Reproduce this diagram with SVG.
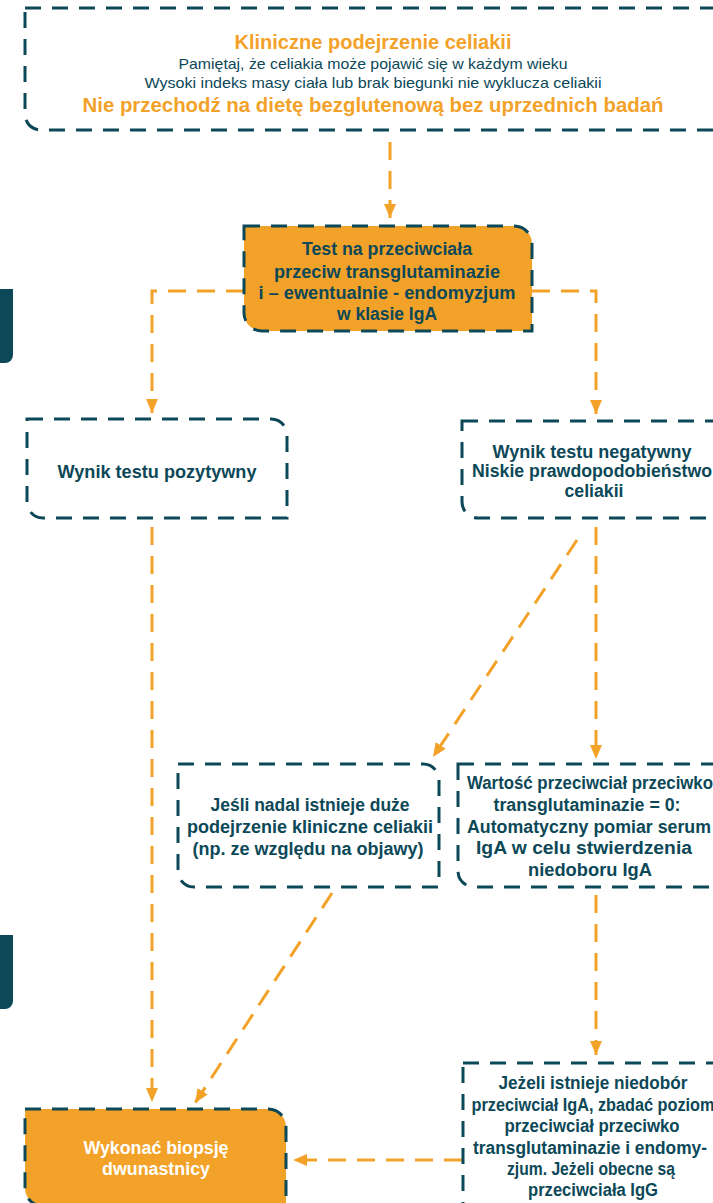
<svg xmlns="http://www.w3.org/2000/svg" width="713" height="1203" viewBox="0 0 713 1203">
<style>
.box{fill:#ffffff;stroke:#0c4858;stroke-width:3;stroke-dasharray:16 11}
.boxo{fill:#f3a229;stroke:#0c4858;stroke-width:3;stroke-dasharray:16 11}
.con{fill:none;stroke:#f3a229;stroke-width:3;stroke-dasharray:18 11}
.t{font-family:"Liberation Sans",Arial,sans-serif;font-weight:bold;font-size:18px;fill:#0c4858;text-anchor:middle}
.tw{font-family:"Liberation Sans",Arial,sans-serif;font-weight:bold;font-size:18px;fill:#ffffff;text-anchor:middle}
.ho{font-family:"Liberation Sans",Arial,sans-serif;font-weight:bold;fill:#f3a229;text-anchor:middle}
.r{font-family:"Liberation Sans",Arial,sans-serif;font-size:15px;fill:#0c4858;text-anchor:middle}
.tab{fill:#0c4858}
</style>
<defs>
<marker id="ah" viewBox="0 0 14 12" markerWidth="14" markerHeight="12" refX="14" refY="6" orient="auto" markerUnits="userSpaceOnUse">
<path d="M0 0 L14 6 L0 12 Z" fill="#f3a229"/>
</marker>
</defs>

<g id="tabs">
<path class="tab" d="M0 289 H13 V355 A8 8 0 0 1 5 363 H0 Z"/>
<path class="tab" d="M0 935 H13 V1001 A8 8 0 0 1 5 1009 H0 Z"/>
</g>

<g id="connectors">
<path class="con" d="M390 142 V218" marker-end="url(#ah)"/>
<path class="con" d="M244 291 H152 V413" marker-end="url(#ah)"/>
<path class="con" d="M532 291 H596 V414" marker-end="url(#ah)"/>
<path class="con" d="M152 527 V1102" marker-end="url(#ah)"/>
<path class="con" d="M596 527 V759" marker-end="url(#ah)"/>
<path class="con" d="M577 540 L433 757" marker-end="url(#ah)"/>
<path class="con" d="M332 893 L195 1103" marker-end="url(#ah)"/>
<path class="con" d="M596 895 V1055" marker-end="url(#ah)"/>
<path class="con" d="M462 1160 H293" marker-end="url(#ah)"/>
</g>

<g id="node-suspicion">
<path class="box" d="M25 8 H714 A16 16 0 0 1 730 24 V130 H41 A16 16 0 0 1 25 114 Z"/>
<text class="ho" x="373" y="49" font-size="20" textLength="277" lengthAdjust="spacingAndGlyphs">Kliniczne podejrzenie celiakii</text>
<text class="r" x="373" y="69" textLength="389" lengthAdjust="spacingAndGlyphs">Pamiętaj, że celiakia może pojawić się w każdym wieku</text>
<text class="r" x="373" y="88" textLength="457" lengthAdjust="spacingAndGlyphs">Wysoki indeks masy ciała lub brak biegunki nie wyklucza celiakii</text>
<text class="ho" x="373" y="112" font-size="21" textLength="581" lengthAdjust="spacingAndGlyphs">Nie przechodź na dietę bezglutenową bez uprzednich badań</text>
</g>

<g id="node-test">
<path class="boxo" d="M244 226 H514 A18 18 0 0 1 532 244 V331 H262 A18 18 0 0 1 244 313 Z"/>
<text class="t" x="387" y="255" textLength="170" lengthAdjust="spacingAndGlyphs">Test na przeciwciała</text>
<text class="t" x="387" y="278" textLength="226" lengthAdjust="spacingAndGlyphs">przeciw transglutaminazie</text>
<text class="t" x="387" y="299" textLength="257" lengthAdjust="spacingAndGlyphs">i – ewentualnie - endomyzjum</text>
<text class="t" x="387" y="320" textLength="100" lengthAdjust="spacingAndGlyphs">w klasie IgA</text>
</g>

<g id="node-positive">
<path class="box" d="M27 419 H271 A16 16 0 0 1 287 435 V518 H43 A16 16 0 0 1 27 502 Z"/>
<text class="t" x="157" y="478" textLength="199" lengthAdjust="spacingAndGlyphs">Wynik testu pozytywny</text>
</g>

<g id="node-negative">
<path class="box" d="M462 421 H712 A16 16 0 0 1 728 437 V518 H478 A16 16 0 0 1 462 502 Z"/>
<text class="t" x="592" y="458" textLength="199" lengthAdjust="spacingAndGlyphs">Wynik testu negatywny</text>
<text class="t" x="592" y="477" textLength="240" lengthAdjust="spacingAndGlyphs">Niskie prawdopodobieństwo</text>
<text class="t" x="594" y="497" textLength="59" lengthAdjust="spacingAndGlyphs">celiakii</text>
</g>

<g id="node-suspicion-high">
<path class="box" d="M178 764 H423 A16 16 0 0 1 439 780 V887 H194 A16 16 0 0 1 178 871 Z"/>
<text class="t" x="310" y="811" textLength="199" lengthAdjust="spacingAndGlyphs">Jeśli nadal istnieje duże</text>
<text class="t" x="310" y="833" textLength="246" lengthAdjust="spacingAndGlyphs">podejrzenie kliniczne celiakii</text>
<text class="t" x="308" y="855" textLength="231" lengthAdjust="spacingAndGlyphs">(np. ze względu na objawy)</text>
</g>

<g id="node-zero">
<path class="box" d="M458 764 H712 A16 16 0 0 1 728 780 V887 H474 A16 16 0 0 1 458 871 Z"/>
<text class="t" x="590" y="789" textLength="246" lengthAdjust="spacingAndGlyphs">Wartość przeciwciał przeciwko</text>
<text class="t" x="587" y="811" textLength="187" lengthAdjust="spacingAndGlyphs">transglutaminazie = 0:</text>
<text class="t" x="589" y="833" textLength="244" lengthAdjust="spacingAndGlyphs">Automatyczny pomiar serum</text>
<text class="t" x="584" y="854" textLength="216" lengthAdjust="spacingAndGlyphs">IgA w celu stwierdzenia</text>
<text class="t" x="590" y="876" textLength="124" lengthAdjust="spacingAndGlyphs">niedoboru IgA</text>
</g>

<g id="node-deficiency">
<path class="box" d="M463 1063 H712 A16 16 0 0 1 728 1079 V1220 H479 A16 16 0 0 1 463 1204 Z"/>
<text class="t" x="593" y="1089" textLength="189" lengthAdjust="spacingAndGlyphs">Jeżeli istnieje niedobór</text>
<text class="t" x="593" y="1111" textLength="243" lengthAdjust="spacingAndGlyphs">przeciwciał IgA, zbadać poziom</text>
<text class="t" x="592" y="1132" textLength="175" lengthAdjust="spacingAndGlyphs">przeciwciał przeciwko</text>
<text class="t" x="590" y="1154" textLength="234" lengthAdjust="spacingAndGlyphs">transglutaminazie i endomy-</text>
<text class="t" x="591" y="1175" textLength="168" lengthAdjust="spacingAndGlyphs">zjum. Jeżeli obecne są</text>
<text class="t" x="593" y="1196" textLength="130" lengthAdjust="spacingAndGlyphs">przeciwciała IgG</text>
</g>

<g id="node-biopsy">
<path class="boxo" d="M25 1109 H268 A18 18 0 0 1 286 1127 V1206 H43 A18 18 0 0 1 25 1188 Z"/>
<text class="tw" x="156" y="1154" textLength="145" lengthAdjust="spacingAndGlyphs">Wykonać biopsję</text>
<text class="tw" x="156" y="1175" textLength="108" lengthAdjust="spacingAndGlyphs">dwunastnicy</text>
</g>
</svg>
